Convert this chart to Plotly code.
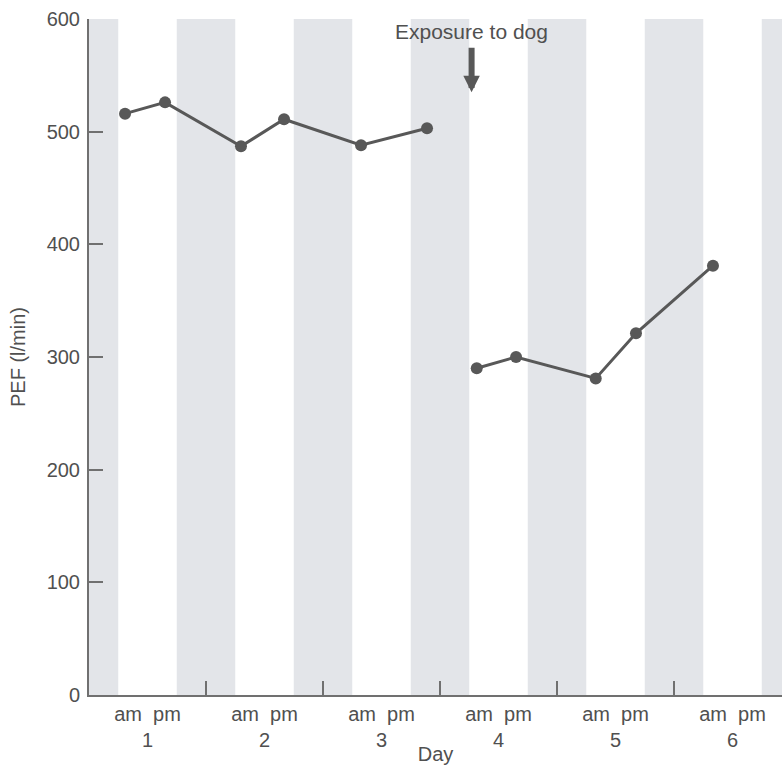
import plotly.graph_objects as go

# ---- data (x in days since start of day 1) ----
days = [1, 2, 3, 4, 5, 6]
day_ticktext = ["am\u00a0\u00a0pm<br>" + str(d) for d in days]

pre_time = [0.308, 0.650, 1.299, 1.667, 2.325, 2.889]
pre_pef = [516, 526, 487, 511, 488, 503]

post_time = [3.314, 3.650, 4.331, 4.675, 5.333]
post_pef = [290, 300, 281, 321, 381]

night_start = 0.75   # 18:00
night_end = 0.25     # 06:00
exposure_time = 3.27
exposure_label = "Exposure to dog"

y_ticks = [0, 100, 200, 300, 400, 500, 600]

TXT = "#505050"
LINE = "#585858"
AX = "#707070"
BAND = "#e3e5e9"
FONT = "Liberation Sans, Arial, sans-serif"

fig = go.Figure()

for t, v in [(pre_time, pre_pef), (post_time, post_pef)]:
    fig.add_trace(go.Scatter(
        x=t, y=v, mode="lines+markers",
        line=dict(color=LINE, width=3),
        marker=dict(color=LINE, size=12),
        showlegend=False, hoverinfo="skip"))

# night bands
shapes = [dict(type="rect", xref="x", yref="y", x0=0, x1=night_end, y0=0, y1=600,
               fillcolor=BAND, line=dict(width=0), layer="below")]
for d in range(0, 7):
    shapes.append(dict(type="rect", xref="x", yref="y",
                       x0=d + night_start, x1=d + 1 + night_end, y0=0, y1=600,
                       fillcolor=BAND, line=dict(width=0), layer="below"))

annotations = [
    dict(x=exposure_time, y=589, xref="x", yref="y", text=exposure_label,
         showarrow=False, font=dict(size=21, color=TXT, family=FONT),
         xanchor="center", yanchor="middle"),
    dict(x=exposure_time, y=535, xref="x", yref="y", text="",
         showarrow=True, ax=0, ay=-46, arrowcolor=LINE, arrowwidth=6,
         arrowhead=2, arrowsize=0.55),
]

fig.update_layout(
    width=782, height=765,
    margin=dict(l=89, r=0, t=19, b=61),
    paper_bgcolor="white", plot_bgcolor="white",
    font=dict(family=FONT, size=20, color=TXT),
    shapes=shapes, annotations=annotations,
    xaxis=dict(
        range=[0, 5.923], showgrid=False, zeroline=False,
        showline=True, linecolor=AX, linewidth=2,
        tickmode="array", tickvals=[d - 0.5 for d in days], ticktext=day_ticktext,
        ticks="", tickfont=dict(size=20, color=TXT),
        minor=dict(tickmode="array", tickvals=[1, 2, 3, 4, 5, 6], ticks="inside",
                   ticklen=14, tickcolor=AX, tickwidth=2, showgrid=False),
        title=dict(text="Day", font=dict(size=20, color=TXT), standoff=0),
    ),
    yaxis=dict(
        range=[0, 600], showgrid=False, zeroline=False,
        showline=True, linecolor=AX, linewidth=2,
        tickmode="array", tickvals=y_ticks,
        ticks="inside", ticklen=14, tickcolor=AX, tickwidth=2,
        ticklabelstandoff=3,
        tickfont=dict(size=20, color=TXT),
        title=dict(text="PEF (l/min)", font=dict(size=20, color=TXT), standoff=16),
    ),
)

fig.write_html("out.html")
